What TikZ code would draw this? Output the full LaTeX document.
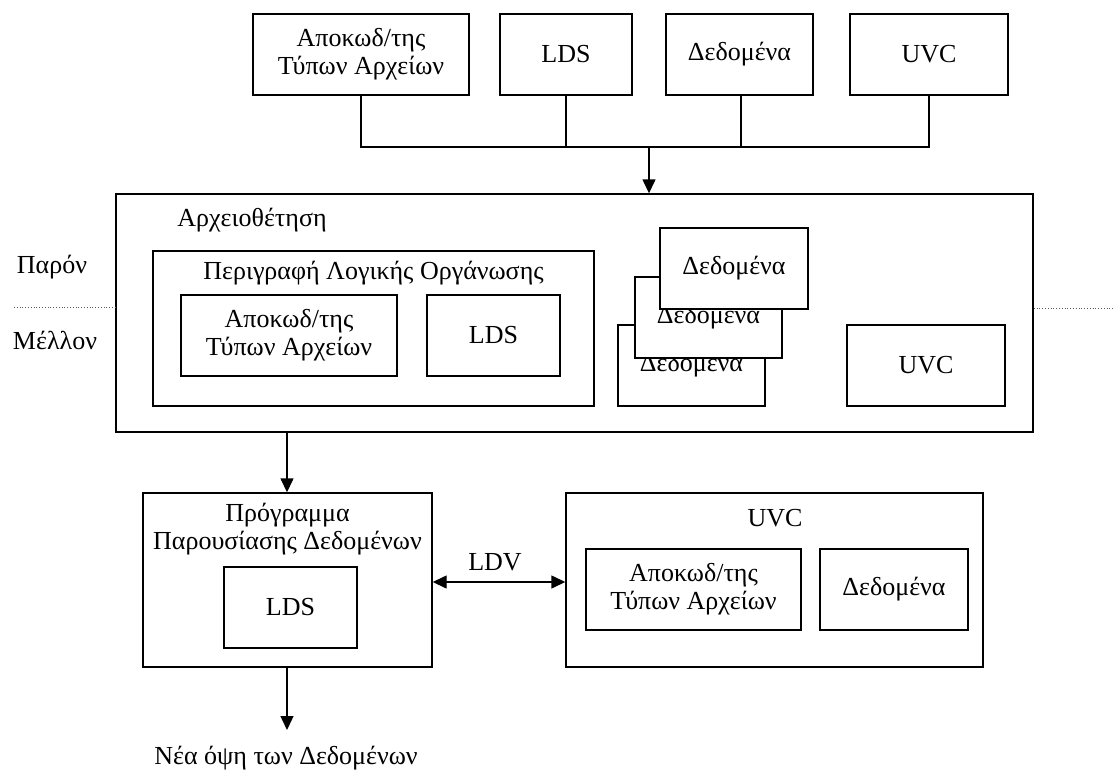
\documentclass[tikz,border=0pt]{standalone}
\usepackage{fontspec}
\setmainfont{Liberation Serif}
\usetikzlibrary{arrows.meta}
\begin{document}
\begin{tikzpicture}[x=1pt,y=-1pt,
  txt/.style={font=\fontsize{26}{28}\selectfont, align=center, inner sep=0pt},
  box/.style={txt, draw, line width=1.4pt, fill=white, rectangle},
  conn/.style={line width=1.4pt},
  arr/.style={line width=1.4pt, -{Triangle[length=14pt,width=13pt]}},
  darr/.style={line width=1.4pt, {Triangle[length=14pt,width=13pt]}-{Triangle[length=14pt,width=13pt]}},
  sep/.style={line width=0.8pt, dotted, gray!70!black}]
\useasboundingbox (0,0) rectangle (1114,771);

% top row
\node[box, minimum width=216pt, minimum height=81pt] (t1) at (361,54.5) {Αποκωδ/της\\Τύπων Αρχείων};
\node[box, minimum width=132pt, minimum height=81pt] (t2) at (566,54.5) {LDS};
\node[box, minimum width=147pt, minimum height=81pt] (t3) at (739.5,54.5) {Δεδομένα};
\node[box, minimum width=158pt, minimum height=81pt] (t4) at (929,54.5) {UVC};
\coordinate (b1) at (361,147);
\coordinate (b3) at (741,147);
\coordinate (b4) at (929,147);
\coordinate (bm) at (649,147);

% main box
\node[box, minimum width=917pt, minimum height=238pt] (main) at (574.5,313) {};
\node[txt] (archlbl) at (252,220) {Αρχειοθέτηση};

\draw[conn] (t1.south) -- (b1) -- (b4) -- (t4.south);
\draw[conn] (t2.south) -- (t2.south |- b1);
\draw[conn] (b3 |- t3.south) -- (b3);
\draw[arr] (bm) -- (bm |- main.north);

\node[box, minimum width=441pt, minimum height=155pt] (perig) at (373.5,328.5) {};
\node[txt] (periglbl) at (373.5,273) {Περιγραφή Λογικής Οργάνωσης};
\node[box, minimum width=216pt, minimum height=81pt] (pa) at (289,335.5) {Αποκωδ/της\\Τύπων Αρχείων};
\node[box, minimum width=133pt, minimum height=81pt] (pl) at (493.5,335.5) {LDS};

% stacked data boxes
\node[box, minimum width=147pt, minimum height=81pt] (s3) at (691.5,365.5) {Δεδομενα};
\node[box, minimum width=147pt, minimum height=81pt] (s2) at (708.5,317.5) {Δεδομενα};
\node[box, minimum width=148pt, minimum height=81pt] (s1) at (734,268.5) {Δεδομένα};

\node[box, minimum width=158pt, minimum height=81pt] (mu) at (926,365.5) {UVC};

% present / future
\node[txt] (paron) at (52,267) {Παρόν};
\node[txt] (mellon) at (55,340) {Μέλλον};
\coordinate (dl) at (14,307);
\coordinate (dr) at (1114,308);
\draw[sep] (dl) -- (main.west |- dl);
\draw[sep] (main.east |- dr) -- (dr);

% bottom row
\node[box, minimum width=289pt, minimum height=174pt] (prog) at (287.5,580) {};
\node[txt] (proglbl) at (287.5,529) {Πρόγραμμα\\Παρουσίασης Δεδομένων};
\node[box, minimum width=133pt, minimum height=81pt] (plds) at (290.5,607.5) {LDS};

\node[box, minimum width=417pt, minimum height=174pt] (uvcb) at (774.5,580) {};
\node[txt] (uvclbl) at (775,518) {UVC};
\node[box, minimum width=215pt, minimum height=81pt] (ua) at (693.5,589.5) {Αποκωδ/της\\Τύπων Αρχείων};
\node[box, minimum width=148pt, minimum height=81pt] (ud) at (894,589.5) {Δεδομένα};

\coordinate (mo) at (287,432);
\draw[arr] (mo) -- (mo |- prog.north);
\draw[darr] ([yshift=-2pt]prog.east) -- ([yshift=-2pt]uvcb.west);
\node[txt] (ldv) at (495,562) {LDV};

\coordinate (out) at (287,730);
\draw[arr] (prog.south -| out) -- (out);
\node[txt] (newview) at (286,758) {Νέα όψη των Δεδομένων};
\end{tikzpicture}
\end{document}
